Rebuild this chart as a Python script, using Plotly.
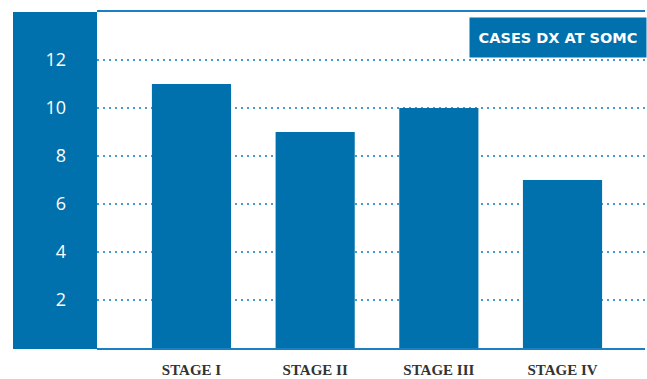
import plotly.graph_objects as go

categories = ["STAGE I", "STAGE II", "STAGE III", "STAGE IV"]
cases = [11, 9, 10, 7]
series_name = "CASES DX AT SOMC"
y_ticks = [2, 4, 6, 8, 10, 12]

BLUE = "#0071ad"
GRID = "#4a9ad4"

fig = go.Figure()
fig.add_trace(go.Bar(
    x=list(range(len(categories))), y=cases, name=series_name,
    marker=dict(color=BLUE, line=dict(width=0)), width=0.64,
    showlegend=False,
))

W, H = 647, 379
L, R, T, B = 97, 2, 12, 31
pw = W - L - R

fig.update_layout(
    width=W, height=H,
    margin=dict(l=L, r=R, t=T, b=B, autoexpand=False),
    paper_bgcolor="white", plot_bgcolor="white",
    xaxis=dict(
        range=[-0.764, 3.667],
        tickmode="array", tickvals=list(range(len(categories))), ticktext=categories,
        tickfont=dict(family="Liberation Serif", size=15, color="#333333", weight="bold"),
        showgrid=False, zeroline=False, ticks="",
        showline=True, linecolor="#1a80c2", linewidth=1.5, mirror=True,
        ticklabelstandoff=7, automargin=False,
    ),
    yaxis=dict(
        range=[0, 14], tickmode="array", tickvals=y_ticks,
        tickfont=dict(family="Open Sans", size=18, color="white"),
        showgrid=True, gridcolor=GRID, griddash="2px,4px", gridwidth=1.5,
        zeroline=False, showline=False, ticks="",
        ticklabelstandoff=30, automargin=False,
    ),
    shapes=[dict(
        type="rect", xref="paper", yref="paper",
        x0=(13 - L) / pw, x1=0, y0=-0.003, y1=1,
        fillcolor=BLUE, line=dict(width=0), layer="below",
    )],
    annotations=[dict(
        text=series_name, xref="paper", yref="paper",
        x=(647 - L) / pw, xanchor="right",
        y=1 - (17 - T) / (H - T - B), yanchor="top",
        showarrow=False, bgcolor=BLUE, borderpad=4,
        width=168, height=31, align="center",
        font=dict(family="DejaVu Sans", size=14.5, color="white", weight="bold"),
    )],
)

fig.write_html("out.html", config={"displayModeBar": False},
               post_script="document.body.style.margin='0px';document.body.style.overflow='hidden';")
